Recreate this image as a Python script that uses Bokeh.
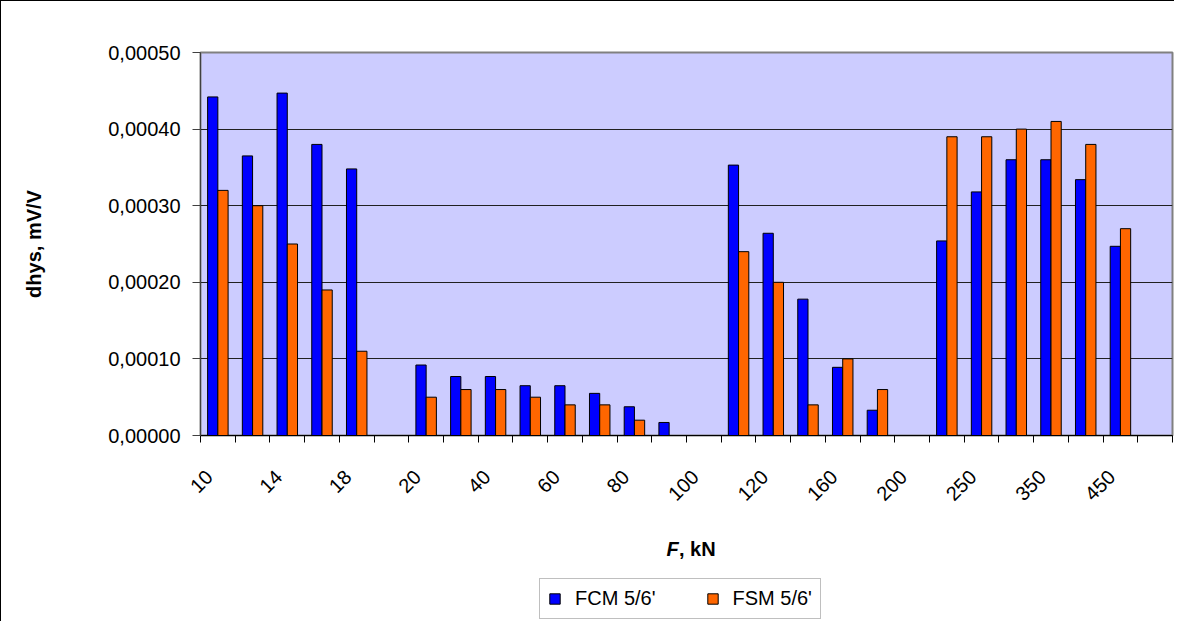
import math
from bokeh.plotting import figure
from bokeh.layouts import column
from bokeh.models import (Range1d, FixedTicker, CustomJSTickFormatter, Legend,
                          LegendItem, Label)
from bokeh.embed import file_html
from bokeh.resources import INLINE

nan = float("nan")

# ---- data ----
categories = ["10", "12", "14", "16", "18", "19", "20", "30", "40", "50", "60", "70",
              "80", "90", "100", "110", "120", "140", "160", "180", "200", "225",
              "250", "300", "350", "400", "450", "500"]
fcm_values = [4.42e-4, 3.65e-4, 4.47e-4, 3.80e-4, 3.48e-4, nan, 0.92e-4, 0.77e-4,
              0.77e-4, 0.65e-4, 0.65e-4, 0.55e-4, 0.375e-4, 0.17e-4, nan, 3.53e-4,
              2.64e-4, 1.78e-4, 0.89e-4, 0.33e-4, nan, 2.54e-4, 3.18e-4, 3.60e-4,
              3.60e-4, 3.34e-4, 2.47e-4, nan]
fsm_values = [3.2e-4, 3.0e-4, 2.5e-4, 1.9e-4, 1.1e-4, nan, 0.5e-4, 0.6e-4, 0.6e-4,
              0.5e-4, 0.4e-4, 0.4e-4, 0.2e-4, nan, nan, 2.4e-4, 2.0e-4, 0.4e-4,
              1.0e-4, 0.6e-4, nan, 3.9e-4, 3.9e-4, 4.0e-4, 4.1e-4, 3.8e-4, 2.7e-4, nan]
y_ticks = [0.0, 0.0001, 0.0002, 0.0003, 0.0004, 0.0005]
series_names = ["FCM 5/6'", "FSM 5/6'"]
series_colors = ["#0000FF", "#FF6600"]
x_title = ["F", ", kN"]
y_title = "dhys, mV/V"

# ---- layout ----
W, H1, H2 = 1174, 508, 113
FL, FR, FT, FB = 199, 1171, 51, 437   # frame edges in canvas px
FONT = "Liberation Sans"
FS = "20px"
n = len(categories)

p = figure(width=W, height=H1, output_backend="svg", toolbar_location=None,
           x_range=Range1d(0, n), y_range=Range1d(0, 0.0005),
           min_border_left=FL, min_border_right=W - FR,
           min_border_top=FT, min_border_bottom=H1 - FB)
p.styles = {"border-top": "1px solid black", "border-left": "1px solid black"}

p.background_fill_color = "#CCCCFF"
p.border_fill_color = "white"
p.outline_line_color = "#808080"
p.outline_line_width = 2

xs = list(range(n))
bw = 0.295
fcm_r = p.vbar(x=[i + 0.5 - bw / 2 for i in xs], top=fcm_values, bottom=0, width=bw,
               fill_color=series_colors[0], line_color="black", line_width=1)
fsm_r = p.vbar(x=[i + 0.5 + bw / 2 for i in xs], top=fsm_values, bottom=0, width=bw,
               fill_color=series_colors[1], line_color="black", line_width=1)

# x axis: boundary ticks (minor), labels at every other category
lab_idx = [i for i in range(0, n - 1, 2)]
lab_pos = [i + 0.25 for i in lab_idx]
p.xaxis.ticker = FixedTicker(ticks=lab_pos, minor_ticks=list(range(n + 1)))
p.xaxis.major_label_overrides = {pos: categories[i] for pos, i in zip(lab_pos, lab_idx)}
p.xaxis.major_tick_out = 0
p.xaxis.major_tick_in = 0
p.xaxis.minor_tick_out = 7
p.xaxis.minor_tick_in = 0
p.xaxis.minor_tick_line_color = "black"
p.xaxis.axis_line_color = "black"
p.xaxis.major_label_orientation = math.pi / 4
p.xaxis.major_label_standoff = 31
p.xaxis.major_label_text_font = FONT
p.xaxis.major_label_text_font_size = FS
p.xaxis.major_label_text_color = "black"

p.yaxis.ticker = FixedTicker(ticks=y_ticks)
p.yaxis.formatter = CustomJSTickFormatter(code="return tick.toFixed(5).replace('.', ',');")
p.yaxis.major_tick_out = 8
p.yaxis.major_tick_in = 0
p.yaxis.minor_tick_out = 0
p.yaxis.minor_tick_in = 0
p.yaxis.major_label_standoff = 12
p.yaxis.axis_line_color = "#404040"
p.yaxis.major_tick_line_color = "#404040"
p.yaxis.major_label_text_font = FONT
p.yaxis.major_label_text_font_size = FS
p.yaxis.major_label_text_color = "black"
p.yaxis.axis_label = y_title
p.yaxis.axis_label_text_font = FONT
p.yaxis.axis_label_text_font_size = FS
p.yaxis.axis_label_text_font_style = "bold"
p.yaxis.axis_label_text_color = "black"
p.yaxis.axis_label_standoff = 60

p.xgrid.grid_line_color = None
p.ygrid.grid_line_color = "#202020"
p.ygrid.grid_line_width = 1

# ---- strip below the chart: x title and legend ----
lf = figure(width=W, height=H2, output_backend="svg", toolbar_location=None,
            x_range=Range1d(0, n), y_range=Range1d(1, 2),
            x_axis_location=None, y_axis_location=None,
            min_border_left=0, min_border_right=0, min_border_top=0,
            min_border_bottom=0)
lf.styles = {"border-left": "1px solid black"}
lf.outline_line_color = None
lf.background_fill_color = "white"
lf.xgrid.grid_line_color = None
lf.ygrid.grid_line_color = None
# same series drawn here only to feed the legend swatches (they lie below this range)
leg_r = [lf.vbar(x=[i + 0.5 for i in xs], top=vals, bottom=0, width=bw,
                 fill_color=c, line_color="black", line_width=1)
         for vals, c in zip([fcm_values, fsm_values], series_colors)]

lf.add_layout(Label(x=466, y=73, x_units="screen", y_units="screen", text=x_title[0],
                    text_font=FONT, text_font_size=FS, text_font_style="bold italic",
                    text_baseline="alphabetic", text_color="black"))
lf.add_layout(Label(x=478.5, y=73, x_units="screen", y_units="screen",
                    text=x_title[1], text_font=FONT, text_font_size=FS,
                    text_font_style="bold", text_baseline="alphabetic",
                    text_color="black"))

legend = Legend(items=[LegendItem(label=s, renderers=[r])
                       for s, r in zip(series_names, leg_r)],
                location=(339, 2), orientation="horizontal", margin=0)
legend.label_text_font = FONT
legend.label_text_font_size = FS
legend.label_text_color = "black"
legend.label_height = 20
legend.glyph_width = 13
legend.glyph_height = 13
legend.border_line_color = "#808080"
legend.border_line_width = 1
legend.padding = 8
legend.spacing = 50
legend.label_standoff = 14
lf.add_layout(legend, "center")

layout = column(p, lf, spacing=0)
open("out.html", "w").write(file_html(layout, INLINE))
